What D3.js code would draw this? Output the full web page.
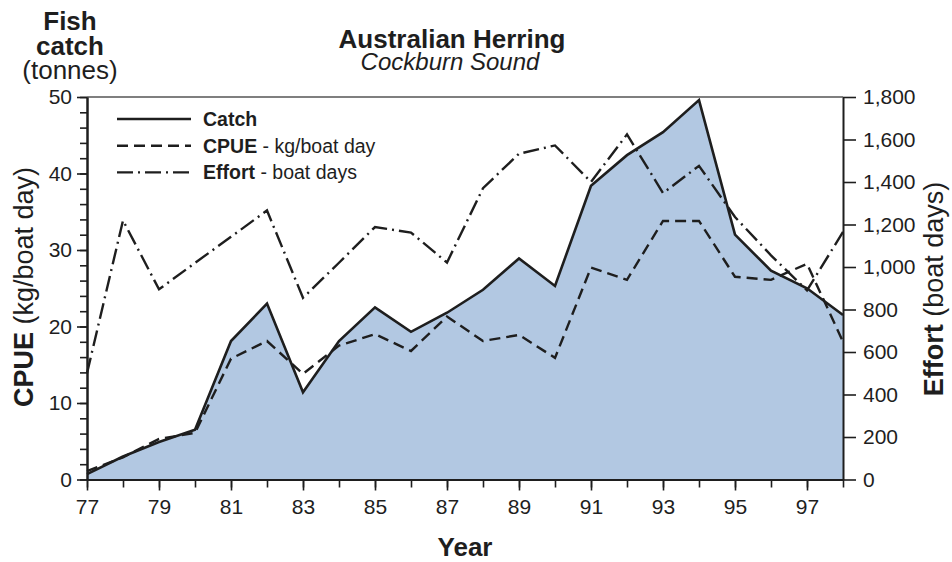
<!DOCTYPE html>
<html>
<head>
<meta charset="utf-8">
<script src="https://cdn.jsdelivr.net/npm/d3@7"></script>
<style>
  html, body { margin: 0; padding: 0; background: #fff; }
  svg { display: block; font-family: "Liberation Sans", Arial, Helvetica, sans-serif; }
</style>
</head>
<body>
<svg id="chart" width="952" height="562"></svg>
<script>
// ---- data ----
const years = [77, 78, 79, 80, 81, 82, 83, 84, 85, 86, 87, 88, 89, 90, 91, 92, 93, 94, 95, 96, 97, 98];
const catchTonnes = [0.7, 3.0, 4.9, 6.5, 18.1, 23.0, 11.4, 18.1, 22.5, 19.3, 21.8, 24.8, 28.9, 25.3, 38.4, 42.4, 45.4, 49.6, 32.0, 27.3, 25.0, 21.5];
const cpueKg = [1.1, 2.9, 5.3, 6.1, 15.8, 18.1, 13.8, 17.5, 19.0, 16.8, 21.3, 18.1, 18.9, 15.9, 27.7, 26.1, 33.8, 33.8, 26.5, 26.1, 28.2, 18.0];
const effortDays = [500, 1219, 895, 1019, 1142, 1266, 855, 1020, 1188, 1162, 1021, 1371, 1533, 1572, 1400, 1624, 1348, 1476, 1235, 1055, 890, 1165];
const xTickLabels = [77, 79, 81, 83, 85, 87, 89, 91, 93, 95, 97];
const leftTicks = [0, 10, 20, 30, 40, 50];
const rightTicks = [0, 200, 400, 600, 800, 1000, 1200, 1400, 1600, 1800];
const legendItems = [
  { bold: "Catch", rest: "", dash: null },
  { bold: "CPUE", rest: " - kg/boat day", dash: "11,6" },
  { bold: "Effort", rest: " - boat days", dash: "16,5,2,5" }
];

// ---- layout ----
const L = 87, R = 843, T = 97, B = 479.5;
const ink = "#1e1e1e";
const svg = d3.select("#chart");

const x = d3.scaleLinear().domain([77, 98]).range([L, R]);
const yL = d3.scaleLinear().domain([0, 50]).range([B, T]);
const yR = d3.scaleLinear().domain([0, 1800]).range([B, T]);

const rowsCatch = years.map((yr, i) => [yr, catchTonnes[i]]);
const rowsCpue = years.map((yr, i) => [yr, cpueKg[i]]);
const rowsEffort = years.map((yr, i) => [yr, effortDays[i]]);

// area under catch
svg.append("path")
  .datum(rowsCatch)
  .attr("fill", "#b2c8e2")
  .attr("d", d3.area().x(d => x(d[0])).y0(B).y1(d => yL(d[1])));

// effort
svg.append("path")
  .datum(rowsEffort)
  .attr("fill", "none").attr("stroke", ink).attr("stroke-width", 2.4)
  .attr("stroke-dasharray", "16,5,2,5")
  .attr("d", d3.line().x(d => x(d[0])).y(d => yR(d[1])));

// cpue
svg.append("path")
  .datum(rowsCpue)
  .attr("fill", "none").attr("stroke", ink).attr("stroke-width", 2.4)
  .attr("stroke-dasharray", "11,6")
  .attr("d", d3.line().x(d => x(d[0])).y(d => yL(d[1])));

// catch
svg.append("path")
  .datum(rowsCatch)
  .attr("fill", "none").attr("stroke", ink).attr("stroke-width", 2.6)
  .attr("stroke-linejoin", "miter")
  .attr("d", d3.line().x(d => x(d[0])).y(d => yL(d[1])));

// top border
svg.append("line").attr("x1", L).attr("x2", R).attr("y1", T).attr("y2", T)
  .attr("stroke", "#555").attr("stroke-width", 1.6);

function styleAxis(g, fs) {
  g.selectAll("path.domain").attr("stroke", ink).attr("stroke-width", 2);
  g.selectAll(".tick line").attr("stroke", ink).attr("stroke-width", 1.6);
  g.selectAll(".tick text").attr("fill", ink).style("font-size", fs + "px")
    .style("font-family", '"Liberation Sans", Arial, Helvetica, sans-serif');
}

// left axis minor
const gLm = svg.append("g").attr("transform", `translate(${L},0)`)
  .call(d3.axisLeft(yL).tickValues(d3.range(0, 51, 2)).tickSize(7).tickSizeOuter(0).tickFormat(""));
styleAxis(gLm, 21);
// left axis major
const gL = svg.append("g").attr("transform", `translate(${L},0)`)
  .call(d3.axisLeft(yL).tickValues(leftTicks).tickSize(10).tickSizeOuter(0).tickPadding(5));
styleAxis(gL, 21);

// right axis
const gR = svg.append("g").attr("transform", `translate(${R},0)`)
  .call(d3.axisRight(yR).tickValues(rightTicks).tickSize(13).tickSizeOuter(0).tickPadding(7).tickFormat(d3.format(",")));
styleAxis(gR, 21);

// bottom axis minor
const gBm = svg.append("g").attr("transform", `translate(0,${B})`)
  .call(d3.axisBottom(x).tickValues(years).tickSize(8).tickSizeOuter(0).tickFormat(""));
styleAxis(gBm, 21);
// bottom axis major
const gB = svg.append("g").attr("transform", `translate(0,${B})`)
  .call(d3.axisBottom(x).tickValues(xTickLabels).tickSize(11).tickSizeOuter(0).tickPadding(9).tickFormat(d => String(d)));
styleAxis(gB, 21);

// titles
svg.append("text").attr("x", 452).attr("y", 48).attr("text-anchor", "middle")
  .attr("fill", ink).style("font-size", "26px").style("font-weight", "bold").text("Australian Herring");
svg.append("text").attr("x", 450).attr("y", 70).attr("text-anchor", "middle")
  .attr("fill", ink).style("font-size", "24px").style("font-style", "italic").text("Cockburn Sound");

// Fish catch (tonnes)
svg.append("text").attr("x", 70).attr("y", 30).attr("text-anchor", "middle")
  .attr("fill", ink).style("font-size", "26px").style("font-weight", "bold").text("Fish");
svg.append("text").attr("x", 70).attr("y", 55).attr("text-anchor", "middle")
  .attr("fill", ink).style("font-size", "26px").style("font-weight", "bold").text("catch");
svg.append("text").attr("x", 70).attr("y", 79).attr("text-anchor", "middle")
  .attr("fill", ink).style("font-size", "26px").text("(tonnes)");

// left axis title
const lt = svg.append("text").attr("transform", "translate(33,287) rotate(-90)")
  .attr("text-anchor", "middle").attr("fill", ink).style("font-size", "27px");
lt.append("tspan").style("font-weight", "bold").text("CPUE");
lt.append("tspan").text(" (kg/boat day)");

// right axis title
const rt = svg.append("text").attr("transform", "translate(943,289) rotate(-90)")
  .attr("text-anchor", "middle").attr("fill", ink).style("font-size", "27px");
rt.append("tspan").style("font-weight", "bold").text("Effort");
rt.append("tspan").text(" (boat days)");

// x axis title
svg.append("text").attr("x", 465).attr("y", 556).attr("text-anchor", "middle")
  .attr("fill", ink).style("font-size", "26px").style("font-weight", "bold").text("Year");

// legend
const lg = svg.append("g");
legendItems.forEach((it, i) => {
  const yy = 119 + i * 26.7;
  const ln = lg.append("line").attr("x1", 117).attr("x2", 191).attr("y1", yy).attr("y2", yy)
    .attr("stroke", ink).attr("stroke-width", 2.4);
  if (it.dash) ln.attr("stroke-dasharray", it.dash);
  const t = lg.append("text").attr("x", 203).attr("y", yy + 7).attr("fill", ink).style("font-size", "19.5px");
  t.append("tspan").style("font-weight", "bold").text(it.bold);
  if (it.rest) t.append("tspan").text(it.rest);
});
</script>
</body>
</html>
